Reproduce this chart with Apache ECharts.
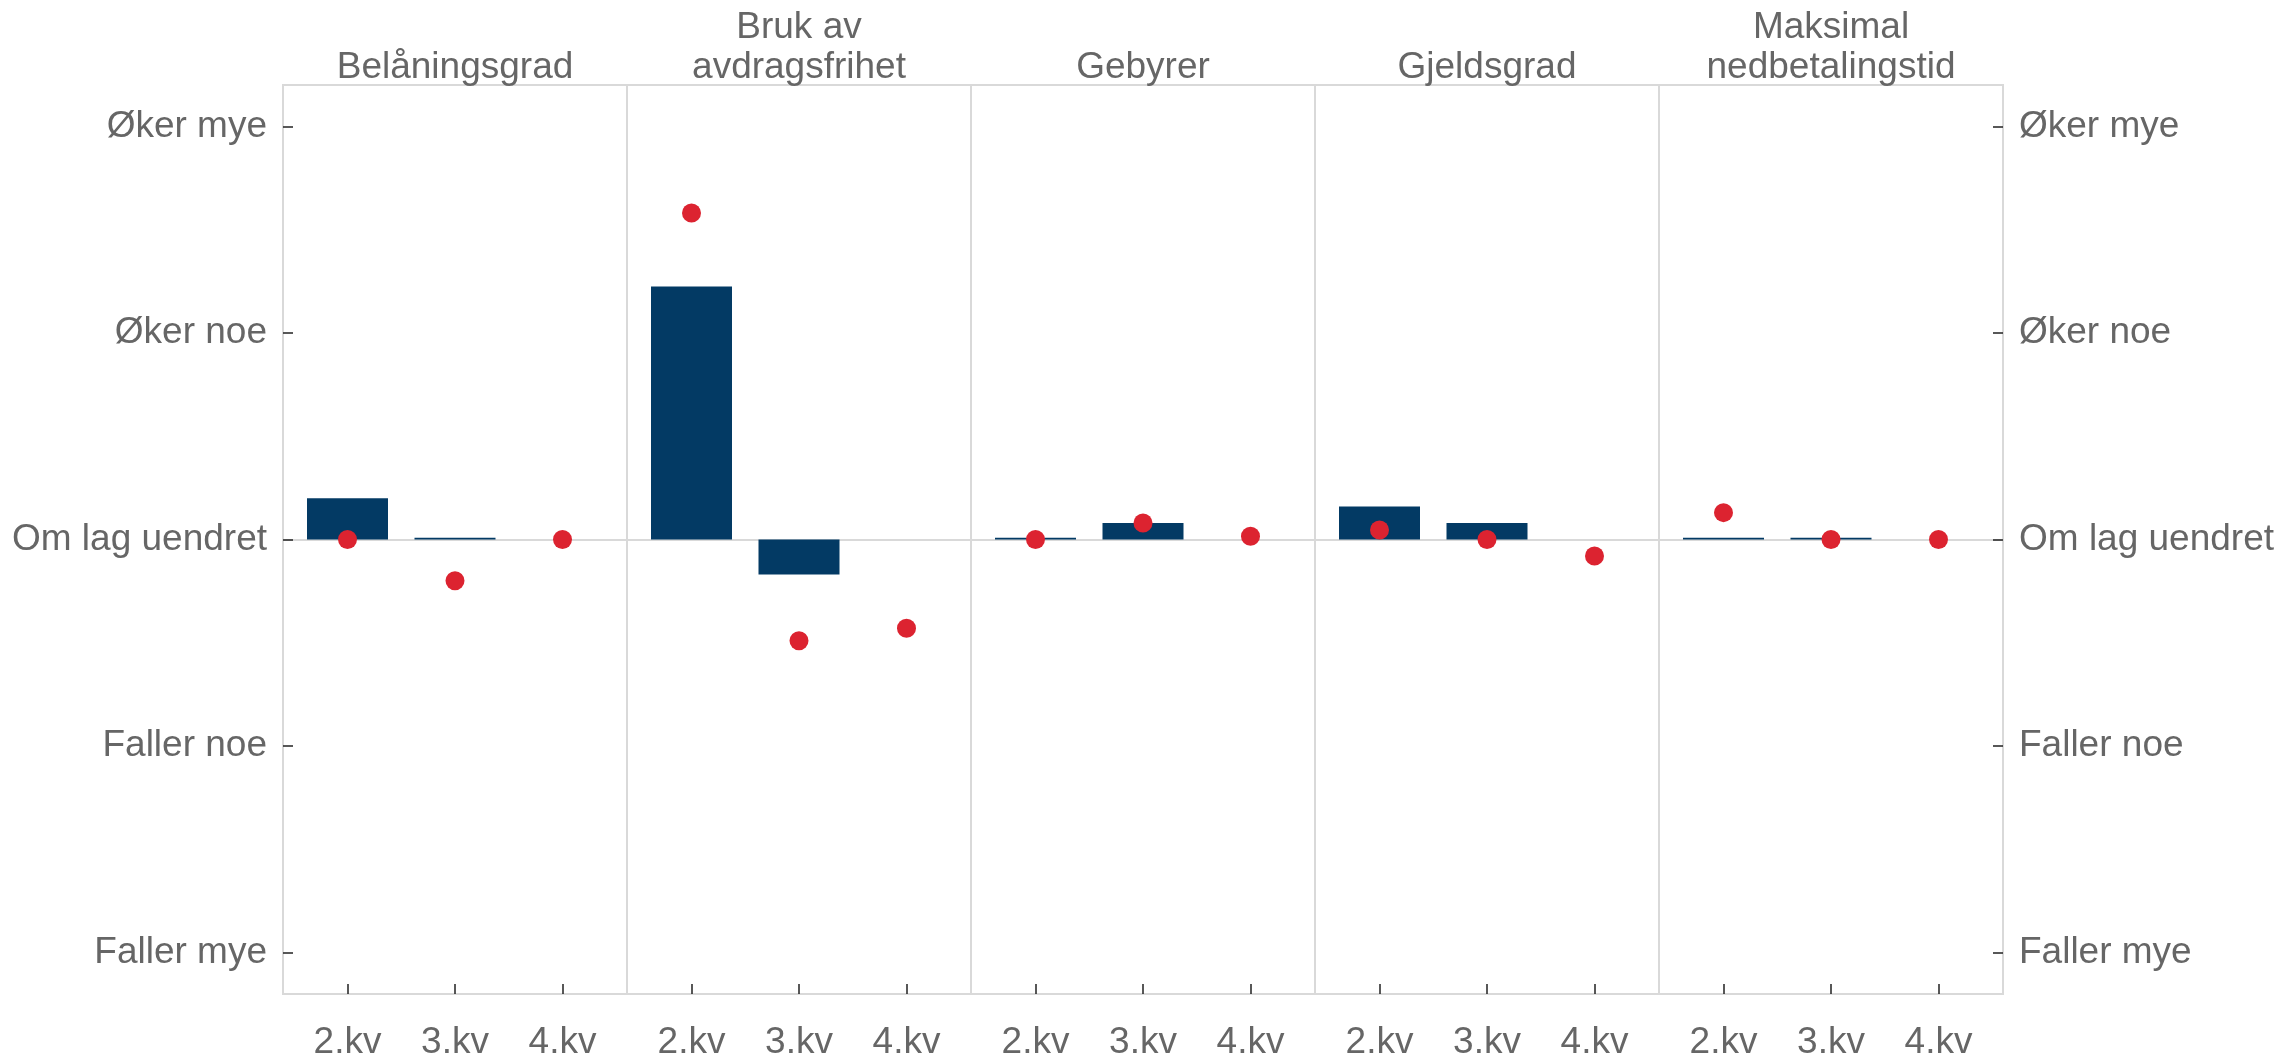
<!DOCTYPE html>
<html>
<head>
<meta charset="utf-8">
<script src="https://cdn.jsdelivr.net/npm/echarts@6/dist/echarts.min.js"></script>
<style>
    html, body { margin: 0; padding: 0; background: #ffffff; }
    #chart { width: 2285px; height: 1061px; }
</style>
</head>
<body>
<div id="chart"></div>
<script>
// data
var categories = ['2.kv', '3.kv', '4.kv'];
var panelTitles = ['Belåningsgrad', 'Bruk av\navdragsfrihet', 'Gebyrer', 'Gjeldsgrad', 'Maksimal\nnedbetalingstid'];
var levelValues = [-2, -1, 0, 1, 2];
var levelLabels = ['Faller mye', 'Faller noe', 'Om lag uendret', 'Øker noe', 'Øker mye'];
// bars (dark blue) per panel, 2.kv 3.kv 4.kv
var barBelaning = [0.2, 0.008, 0];
var barAvdrag = [1.225, -0.17, 0];
var barGebyrer = [0.008, 0.08, 0];
var barGjeld = [0.16, 0.08, 0];
var barNedbet = [0.008, 0.008, 0];
// dots (red) per panel
var dotBelaning = [0, -0.2, 0];
var dotAvdrag = [1.58, -0.49, -0.43];
var dotGebyrer = [0, 0.08, 0.016];
var dotGjeld = [0.046, 0, -0.08];
var dotNedbet = [0.13, 0, 0];

var barSets = [barBelaning, barAvdrag, barGebyrer, barGjeld, barNedbet];
var dotSets = [dotBelaning, dotAvdrag, dotGebyrer, dotGjeld, dotNedbet];

var textColor = '#666666';
var lineColor = '#d9d9d9';
var fontFamily = '"Liberation Sans", Arial, sans-serif';
var fontSize = 37;

var plotLeft = 283, plotTop = 85, plotBottom = 1005, panelW = 344;

function levelName(v) {
    var i = levelValues.indexOf(Math.round(v));
    return i > -1 ? levelLabels[i] : '';
}

var grids = [], xAxes = [], yAxes = [], series = [], titles = [];

function eachPanel(arr, fn) { for (var k = 0; k < arr.length; k++) fn(arr[k], k); }

eachPanel(panelTitles, function (name, i) {
    var left = plotLeft + i * panelW;
    grids.push({
        left: left, top: plotTop, width: panelW, height: plotBottom - plotTop,
        show: true, borderColor: lineColor, borderWidth: 2, backgroundColor: 'transparent'
    });
    var twoLines = name.indexOf('\n') > -1;
    titles.push({
        text: name,
        left: left + panelW / 2,
        textAlign: 'center',
        top: twoLines ? 8 : 48,
        padding: 0,
        textStyle: { color: textColor, fontSize: fontSize, fontWeight: 'normal', fontFamily: fontFamily, lineHeight: 40 }
    });
    // bottom axis with ticks + labels
    xAxes.push({
        gridIndex: i, type: 'value', min: 0.4, max: 3.6, position: 'bottom',
        axisLine: { show: false, onZero: false },
        axisTick: { show: true, inside: true, length: 10, customValues: [1, 2, 3], lineStyle: { color: '#222', width: 1.5 } },
        axisLabel: {
            show: true, customValues: [1, 2, 3], margin: 30,
            color: textColor, fontSize: fontSize, fontFamily: fontFamily,
            formatter: function (v) { return categories[Math.round(v) - 1] || ''; }
        },
        splitLine: { show: false }
    });
    // zero line
    xAxes.push({
        gridIndex: i, type: 'value', min: 0.4, max: 3.6, position: 'top',
        axisLine: { show: true, onZero: true, lineStyle: { color: lineColor, width: 2 } },
        axisTick: { show: false }, axisLabel: { show: false }, splitLine: { show: false }
    });
    var yAx = {
        gridIndex: i, type: 'value', min: -2.2, max: 2.2,
        axisLine: { show: false },
        axisTick: { show: false },
        axisLabel: { show: false },
        splitLine: { show: false }
    };
    if (i === 0 || i === panelTitles.length - 1) {
        yAx.position = i === 0 ? 'left' : 'right';
        yAx.axisTick = { show: true, inside: true, length: 10, customValues: levelValues, lineStyle: { color: '#222', width: 1.5 } };
        yAx.axisLabel = {
            show: true, customValues: levelValues, margin: 16,
            color: textColor, fontSize: fontSize, fontFamily: fontFamily,
            formatter: levelName
        };
    }
    yAxes.push(yAx);

    series.push({
        type: 'bar', xAxisIndex: i * 2, yAxisIndex: i,
        barWidth: 81,
        itemStyle: { color: '#033a64' },
        data: barSets[i].map(function (v, k) { return [k + 1, v]; }),
        z: 2
    });
    series.push({
        type: 'scatter', xAxisIndex: i * 2, yAxisIndex: i,
        symbol: 'circle', symbolSize: 19,
        itemStyle: { color: '#dc2330', opacity: 1 },
        data: dotSets[i].map(function (v, k) { return [k + 1, v]; }),
        z: 3
    });
});

var myChart = echarts.init(document.getElementById('chart'));
myChart.setOption({
    animation: false,
    backgroundColor: '#ffffff',
    title: titles,
    grid: grids,
    xAxis: xAxes,
    yAxis: yAxes,
    series: series
});
</script>
</body>
</html>
